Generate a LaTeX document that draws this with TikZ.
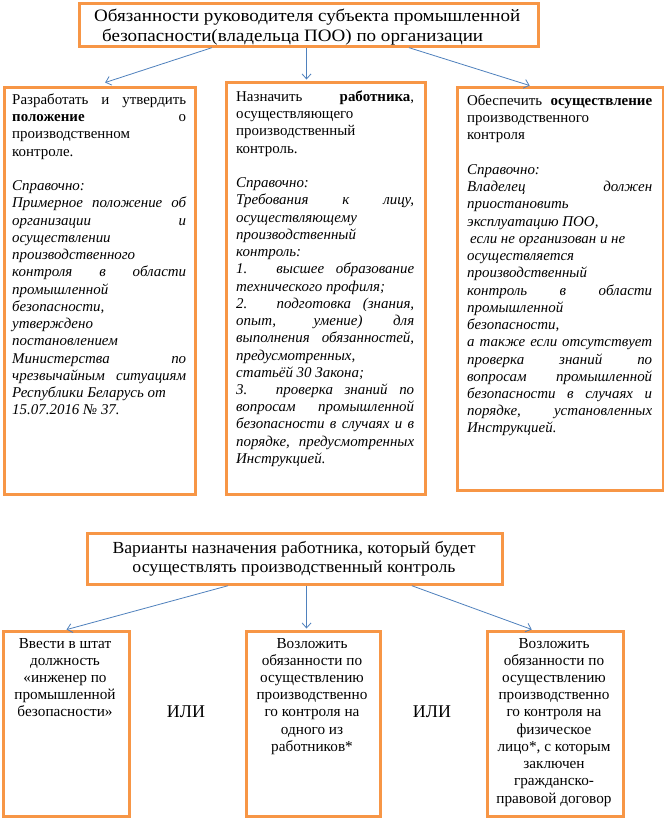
\documentclass[tikz,border=0pt]{standalone}
\usepackage{fontspec}
\usepackage{graphicx}
\setmainfont{Liberation Serif}
\usetikzlibrary{arrows.meta,calc}
\definecolor{boxor}{HTML}{F79646}
\definecolor{arrbl}{HTML}{4F81BD}
\newcommand{\jline}[1]{\makebox[\linewidth][s]{#1}\\}
\tikzset{
  obox/.style={draw=boxor, line width=2.7bp, rectangle, inner sep=0pt, anchor=north west},
  conn/.style={draw=arrbl, line width=0.8bp, -{Straight Barb[length=5bp,width=9bp]}, shorten >=1.5bp},
  txt/.style={inner sep=0pt, anchor=base west},
  ctxt/.style={inner sep=0pt, anchor=base},
}
\begin{document}
\begin{tikzpicture}[x=1bp,y=-1bp]
\useasboundingbox (0,0) rectangle (664,820);
\fill[white] (0,0) rectangle (664,820);

% boxes
\node[obox, minimum width=459bp, minimum height=43bp] (top) at (78,2) {};
\node[obox, minimum width=191bp, minimum height=407bp] (L) at (3,86) {};
\node[obox, minimum width=199bp, minimum height=412bp] (M) at (225,81) {};
\node[obox, minimum width=206bp, minimum height=403bp] (R) at (456,86) {};
\node[obox, minimum width=415bp, minimum height=51bp] (H2) at (86,532) {};
\node[obox, minimum width=126bp, minimum height=185bp] (BL) at (2,630) {};
\node[obox, minimum width=134bp, minimum height=185bp] (BM) at (245,630) {};
\node[obox, minimum width=136bp, minimum height=185bp] (BR) at (486,630) {};

% header 1
\node[txt] (toptxt) at (94,22) {\fontsize{17.5}{20}\selectfont\parbox[t]{450bp}{%
\resizebox{426bp}{\height}{Обязанности руководителя субъекта промышленной}\\
\hspace*{8bp}\resizebox{381bp}{\height}{безопасности(владельца ПОО) по организации}}};

% left column
\node[txt] (Ltxt) at (12,104.5) {\fontsize{15}{17.3}\selectfont\parbox[t]{174bp}{\raggedright
\jline{Разработать и утвердить}
\jline{\textbf{положение} о}
производственном\\
контроле.\\
\mbox{}\\
\itshape
Справочно:\\
\jline{Примерное положение об}
\jline{организации и}
осуществлении\\
производственного\\
\jline{контроля в области}
промышленной\\
безопасности,\\
утверждено\\
постановлением\\
\jline{Министерства по}
\jline{чрезвычайным ситуациям}
Республики Беларусь от\\
15.07.2016 № 37.}};

% middle column
\node[txt] (Mtxt) at (236,101.5) {\fontsize{15}{17.3}\selectfont\parbox[t]{178bp}{\raggedright
\jline{Назначить \textbf{работника},}
осуществляющего\\
производственный\\
контроль.\\
\mbox{}\\
\itshape
Справочно:\\
\jline{Требования к лицу,}
осуществляющему\\
производственный\\
контроль:\\
\jline{1. высшее образование}
технического профиля;\\
\jline{2. подготовка (знания,}
\jline{опыт, умение) для}
\jline{выполнения обязанностей,}
предусмотренных,\\
статьёй 30 Закона;\\
\jline{3. проверка знаний по}
\jline{вопросам промышленной}
\jline{безопасности в случаях и в}
\jline{порядке, предусмотренных}
Инструкцией.}};

% right column
\node[txt] (Rtxt) at (467,105.5) {\fontsize{15}{17.3}\selectfont\parbox[t]{185bp}{\raggedright
\jline{Обеспечить \textbf{осуществление}}
производственного\\
контроля\\
\mbox{}\\
\itshape
Справочно:\\
\jline{Владелец должен}
приостановить\\
эксплуатацию ПОО,\\
\hspace*{3bp}если не организован и не\\
осуществляется\\
производственный\\
\jline{контроль в области}
промышленной\\
безопасности,\\
\jline{а также если отсутствует}
\jline{проверка знаний по}
\jline{вопросам промышленной}
\jline{безопасности в случаях и}
\jline{порядке, установленных}
Инструкцией.}};

% header 2
\node[ctxt] (H2txt) at (294,553) {\fontsize{17}{20}\selectfont\parbox[t]{420bp}{\centering
\resizebox{363bp}{\height}{Варианты назначения работника, который будет}\\
\resizebox{323bp}{\height}{осуществлять производственный контроль}}};

% bottom boxes text
\node[ctxt] (BLtxt) at (65,648) {\fontsize{15.3}{17.3}\selectfont\parbox[t]{124bp}{\centering
Ввести в штат\\ должность\\ «инженер по\\ промышленной\\ безопасности»}};
\node[ctxt] (BMtxt) at (312,648) {\fontsize{15.3}{17.3}\selectfont\parbox[t]{132bp}{\centering
Возложить\\ обязанности по\\ осуществлению\\ производственно\\ го контроля на\\ одного из\\ работников*}};
\node[ctxt] (BRtxt) at (554,648) {\fontsize{15.3}{17.3}\selectfont\parbox[t]{134bp}{\centering
Возложить\\ обязанности по\\ осуществлению\\ производственно\\ го контроля на\\ физическое\\ лицо*, с которым\\ заключен\\ гражданско-\\ правовой договор}};

\node[ctxt] (or1) at (186,717) {\fontsize{18}{20}\selectfont ИЛИ};
\node[ctxt] (or2) at (432,717) {\fontsize{18}{20}\selectfont ИЛИ};

% connectors top
\draw[conn] ($(top.south west)!0.29!(top.south east)$) -- ($(L.north west)!0.52!(L.north east)+(0,-3)$);
\draw[conn] ($(top.south west)!0.495!(top.south east)$) coordinate (ms) -- (ms |- M.north);
\draw[conn] ($(top.south west)!0.717!(top.south east)$) -- ($(R.north west)!0.36!(R.north east)$);

% connectors bottom
\draw[conn] ($(H2.south west)!0.34!(H2.south east)$) -- ($(BL.north west)!0.49!(BL.north east)$);
\draw[conn] ($(H2.south west)!0.528!(H2.south east)$) coordinate (bs) -- (bs |- BM.north);
\draw[conn] ($(H2.south west)!0.78!(H2.south east)$) -- ($(BR.north west)!0.34!(BR.north east)$);
\end{tikzpicture}
\end{document}
